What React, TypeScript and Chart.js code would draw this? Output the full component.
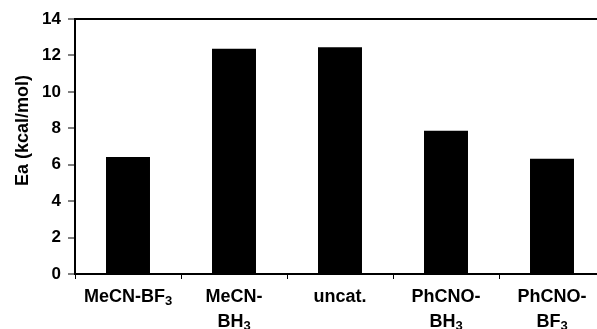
import React, { useEffect, useRef } from "react";
import { Chart, registerables } from "chart.js";

Chart.register(...registerables);

const categoryLines: string[][] = [
  ["MeCN-BF₃"],
  ["MeCN-", "BH₃"],
  ["uncat."],
  ["PhCNO-", "BH₃"],
  ["PhCNO-", "BF₃"],
];
const categories = categoryLines.map((l) => l.join(" "));
const eaValues = [6.43, 12.36, 12.45, 7.87, 6.33];
const yTitle = "Ea (kcal/mol)";
const yMin = 0;
const yMax = 14;
const yStep = 2;

const FONT = '"Liberation Sans", Arial, sans-serif';

const customText = {
  id: "customText",
  afterDraw(chart: any) {
    const ctx = chart.ctx as CanvasRenderingContext2D;
    const xs = chart.scales.x;
    ctx.save();
    ctx.fillStyle = "#000";
    ctx.textBaseline = "alphabetic";
    ctx.textAlign = "left";
    const normal = `bold 18px ${FONT}`;
    const small = `bold 13px ${FONT}`;
    categoryLines.forEach((lines, i) => {
      const cx = xs.getPixelForValue(i);
      lines.forEach((line, k) => {
        const baseY = xs.bottom - 55 + 28 + k * 25;
        const segs: { t: string; sub: boolean }[] = [];
        for (const ch of line) {
          const sub = ch === "₃";
          const t = sub ? "3" : ch;
          const last = segs[segs.length - 1];
          if (last && last.sub === sub) last.t += t;
          else segs.push({ t, sub });
        }
        let total = 0;
        segs.forEach((s) => {
          ctx.font = s.sub ? small : normal;
          total += ctx.measureText(s.t).width;
        });
        let x = cx - total / 2;
        segs.forEach((s) => {
          ctx.font = s.sub ? small : normal;
          ctx.fillText(s.t, x, baseY + (s.sub ? 3 : 0));
          x += ctx.measureText(s.t).width;
        });
      });
    });
    // y axis title
    ctx.translate(23, 130.5);
    ctx.rotate(-Math.PI / 2);
    ctx.font = normal;
    ctx.textAlign = "center";
    ctx.textBaseline = "middle";
    ctx.fillText(yTitle, 0, 0);
    ctx.restore();
  },
};

export default function App() {
  const ref = useRef<HTMLCanvasElement>(null);
  useEffect(() => {
    if (!ref.current) return;
    const chart = new Chart(ref.current, {
      type: "bar",
      data: {
        labels: categories,
        datasets: [
          {
            data: eaValues,
            backgroundColor: "#000",
            borderWidth: 0,
            barPercentage: 0.415,
            categoryPercentage: 1,
          },
        ],
      },
      options: {
        responsive: false,
        animation: false,
        devicePixelRatio: 1,
        layout: { padding: { top: 19, right: 15, left: 0, bottom: 0 } },
        plugins: { legend: { display: false }, tooltip: { enabled: false } },
        scales: {
          x: {
            offset: true,
            grid: {
              offset: true,
              drawOnChartArea: false,
              tickLength: 5,
              tickColor: "#000",
              tickWidth: 1,
            },
            border: { color: "#000", width: 2 },
            ticks: { display: false },
            afterFit: (s: any) => {
              s.height = 55;
            },
          },
          y: {
            min: yMin,
            max: yMax,
            ticks: {
              stepSize: yStep,
              color: "#000",
              padding: 7,
              font: { family: FONT, size: 17, weight: "bold" },
            },
            grid: {
              drawOnChartArea: true,
              color: (c: any) => (c.tick && c.tick.value === yMax ? "#000" : "rgba(0,0,0,0)"),
              lineWidth: 2,
              tickLength: 7,
              tickColor: "#000",
              tickWidth: 1,
            },
            border: { color: "#000", width: 2 },
            afterFit: (s: any) => {
              s.width = 75;
            },
          },
        },
      },
      plugins: [customText],
    });
    return () => chart.destroy();
  }, []);
  return (
    <div
      style={{
        position: "fixed",
        left: 0,
        top: 0,
        width: 597,
        height: 329,
        overflow: "hidden",
        background: "#fff",
      }}
    >
      <canvas ref={ref} width={620} height={329} style={{ width: 620, height: 329, display: "block" }} />
    </div>
  );
}
